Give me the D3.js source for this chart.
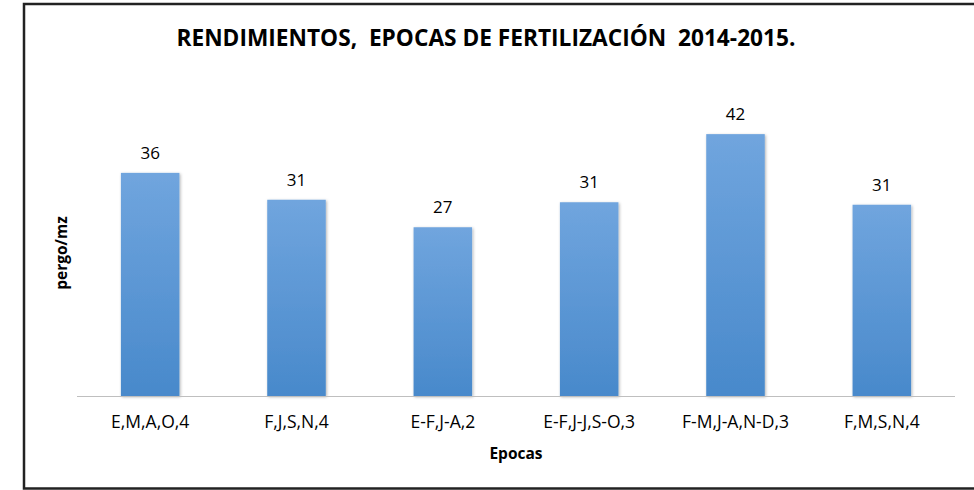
<!DOCTYPE html>
<html>
<head>
<meta charset="utf-8">
<script src="https://cdn.jsdelivr.net/npm/d3@7"></script>
<style>
  body { margin: 0; background: #fff; }
  text { font-family: "Open Sans", "Noto Sans", sans-serif; fill: #000; }
</style>
</head>
<body>
<svg id="chart" width="974" height="490"></svg>
<script>
var epocas = ["E,M,A,O,4", "F,J,S,N,4", "E-F,J-A,2", "E-F,J-J,S-O,3", "F-M,J-A,N-D,3", "F,M,S,N,4"]
var rendimiento = [35.7, 31.4, 27.0, 31.0, 41.9, 30.6]
var titulo = "RENDIMIENTOS,  EPOCAS DE FERTILIZACIÓN  2014-2015."

var svg = d3.select("#chart")
var defs = svg.append("defs")
var grad = defs.append("linearGradient").attr("id", "barra")
    .attr("x1", 0).attr("y1", 0).attr("x2", 0).attr("y2", 1)
grad.append("stop").attr("offset", "0%").attr("stop-color", "#70a5de")
grad.append("stop").attr("offset", "100%").attr("stop-color", "#4889cb")
defs.append("filter").attr("id", "sombra")
    .attr("x", "-20%").attr("y", "-10%").attr("width", "140%").attr("height", "120%")
  .append("feDropShadow")
    .attr("dx", 1).attr("dy", 1).attr("stdDeviation", 1.5)
    .attr("flood-color", "#000").attr("flood-opacity", 0.3)

// frame (right side is cut off in the picture)
svg.append("path")
    .attr("d", "M974,4H24V488.5H974")
    .attr("fill", "none").attr("stroke", "#222").attr("stroke-width", 2.5)

var x = d3.scaleBand().domain(epocas).range([77, 955]).paddingInner(0.6).paddingOuter(0.3)
var y = d3.scaleLinear().domain([0, 50]).range([396, 83.5])

svg.selectAll(".bar").data(rendimiento).enter().append("rect")
    .attr("class", "bar")
    .attr("x", function(d, i) { return x(epocas[i]) })
    .attr("width", x.bandwidth())
    .attr("y", function(d) { return y(d) })
    .attr("height", function(d) { return y(0) - y(d) })
    .attr("fill", "url(#barra)")
    .attr("filter", "url(#sombra)")

svg.selectAll(".valor").data(rendimiento).enter().append("text")
    .attr("class", "valor")
    .attr("x", function(d, i) { return x(epocas[i]) + x.bandwidth() / 2 })
    .attr("y", function(d) { return y(d) - 14 })
    .attr("text-anchor", "middle")
    .attr("font-size", 17)
    .attr("fill", "#222")
    .text(d3.format(".0f"))

// x axis: baseline only
var ax = svg.append("g").attr("transform", "translate(0," + y(0) + ")")
    .call(d3.axisBottom(x).tickSize(0).tickPadding(20).tickSizeOuter(0))
ax.select(".domain").attr("stroke", "#bfbfbf").attr("stroke-width", 1.2)
    .attr("d", "M77,0.5H955")
ax.selectAll("text").attr("font-size", 17.5).attr("fill", "#222")
    .attr("font-family", "'Open Sans', sans-serif")

svg.append("text")
    .attr("x", 486).attr("y", 46)
    .attr("text-anchor", "middle")
    .attr("font-size", 22.5).attr("font-weight", "bold")
    .style("white-space", "pre")
    .attr("textLength", 619).attr("lengthAdjust", "spacingAndGlyphs")
    .text(titulo)

svg.append("text")
    .attr("x", 516).attr("y", 459)
    .attr("text-anchor", "middle")
    .attr("font-size", 15.5).attr("font-weight", "bold")
    .text("Epocas")

svg.append("text")
    .attr("transform", "translate(67,253) rotate(-90)")
    .attr("text-anchor", "middle")
    .attr("font-size", 15.5).attr("font-weight", "bold")
    .text("pergo/mz")
</script>
</body>
</html>
